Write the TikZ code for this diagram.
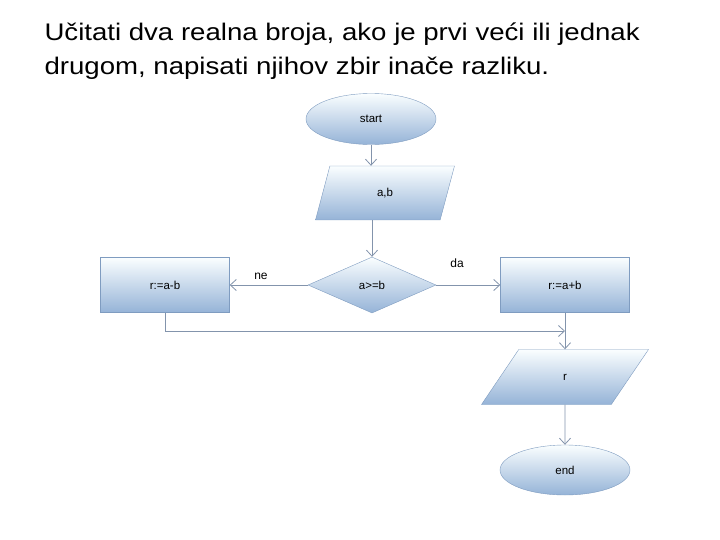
\documentclass[tikz,border=0pt]{standalone}
\usepackage{fontspec}
\setmainfont{Liberation Sans}
\usetikzlibrary{shapes.geometric,arrows.meta}
\definecolor{bord}{HTML}{7F9CC0}
\definecolor{lnc}{HTML}{8394AC}
\tikzset{
  box/.style={draw=bord,top color=blue!4!white!85!cyan!10, bottom color={rgb,255:red,149;green,179;blue,215}, font=\fontsize{11.5}{13}\selectfont, inner sep=0pt},
  term/.style={box,ellipse,minimum width=130pt,minimum height=51pt},
  proc/.style={box,rectangle,minimum width=129pt,minimum height=55pt},
  io/.style={box,trapezium,trapezium left angle=76,trapezium right angle=104,trapezium stretches=true,minimum width=152pt,minimum height=55pt},
  dec/.style={box,diamond,aspect=2.3,minimum width=128pt,minimum height=56pt},
  conn/.style={draw=lnc,line width=0.8pt,-{Straight Barb[length=6pt,width=11pt]}},
  lbl/.style={font=\fontsize{12}{13}\selectfont},
  ttl/.style={anchor=west,font=\fontsize{24}{28}\selectfont}
}
\begin{document}
\begin{tikzpicture}[x=1pt,y=-1pt]
\useasboundingbox (0,0) rectangle (720,540);
\node[ttl] (t1) at (41,34) {\scalebox{1.15}[1]{Učitati dva realna broja, ako je prvi veći ili jednak}};
\node[ttl] (t2) at (41,68) {\scalebox{1.15}[1]{drugom, napisati njihov zbir inače razliku.}};
\node[term] (start) at (371,119) {start};
\node[io,trapezium left angle=78,trapezium right angle=102,minimum width=139pt,minimum height=54pt] (ab) at (385,193) {a,b};
\node[dec] (d) at (372,285) {a>=b};
\node[proc] (L) at (165,285) {r:=a-b};
\node[proc] (R) at (565,285) {r:=a+b};
\node[io,minimum width=167pt] (r) at (565,377) {r};
\node[term,minimum height=50pt] (end) at (565,470) {end};
\coordinate (c1) at (165,331);
\coordinate (c2) at (565,331);
\draw[conn] (start) -- (start|-ab.north);
\draw[conn] (ab.south-|d) -- (d);
\draw[conn] (d) -- node[lbl,above,pos=0.6,yshift=2pt]{ne} (L);
\draw[conn] (d) -- (R);
\node[lbl] (da) at (457,263) {da};
\draw[conn] (R) -- (r);
\draw[conn] (L) -- (c1) -- (c2);
\draw[conn] (r) -- (end);
\end{tikzpicture}
\end{document}
